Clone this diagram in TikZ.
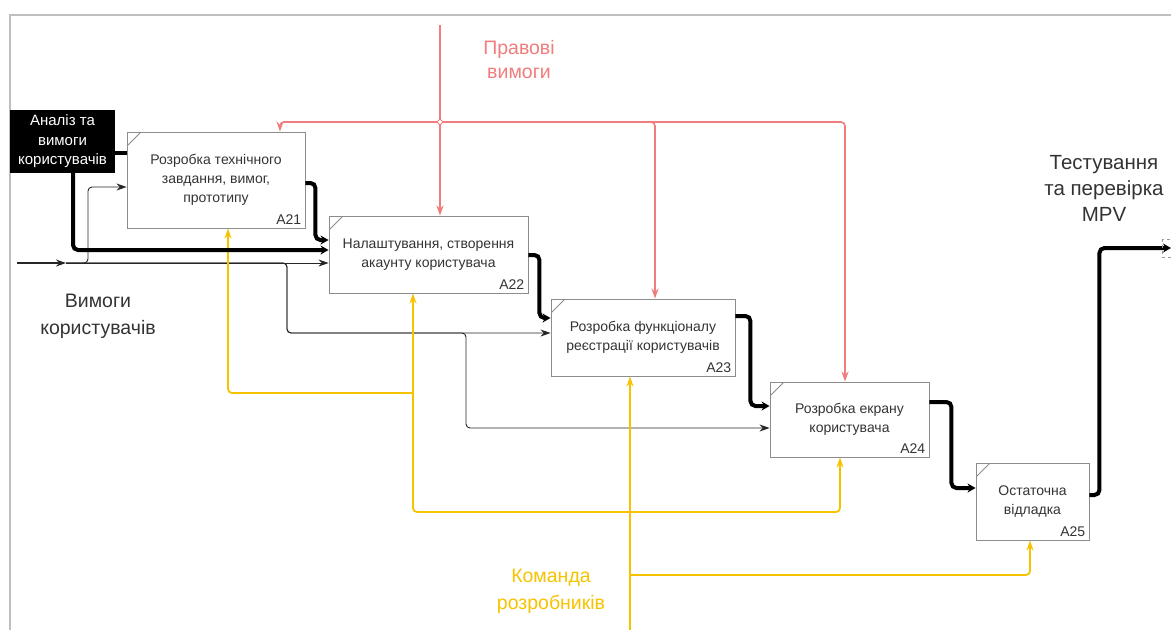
\documentclass[tikz,border=0pt]{standalone}
\usepackage{fontspec}
\setmainfont{Liberation Sans}
\usetikzlibrary{arrows.meta}
\definecolor{lawred}{HTML}{F07C7C}
\definecolor{teamgold}{HTML}{F5C300}

\begin{document}
\begin{tikzpicture}[x=1pt,y=-1pt,
  fn/.style={draw=black!45, line width=0.9pt, text=black!80, align=center,
    font=\fontsize{14}{19}\selectfont,
    path picture={\draw[black!45] ([yshift=-14pt]path picture bounding box.north west)
      -- ([xshift=14pt]path picture bounding box.north west);}},
  num/.style={anchor=south east, inner sep=4pt, text=black!80, font=\fontsize{14}{15}\selectfont},
  big/.style={align=center, text=black!80, font=\fontsize{19.5}{27}\selectfont},
  flow/.style={line width=4pt, rounded corners=5pt, -{Stealth[length=8pt,width=9pt]}},
  data/.style={draw=black!85, line width=0.9pt, rounded corners=4pt, -{Stealth[length=10pt,width=7pt]}},
  ctrl/.style={draw=lawred, line width=1.6pt, rounded corners=4pt, -{Stealth[length=10pt,width=7pt]}},
  mech/.style={draw=teamgold, line width=1.8pt, rounded corners=4pt, -{Stealth[length=10pt,width=7pt]}}]
  \useasboundingbox (0,0) rectangle (1171,630);
  \draw[black!25, line width=1.5pt] (10,630) -- (10,15) -- (1171,15);

  \node[fill=black, text=white, minimum width=105pt, minimum height=63pt, inner sep=1pt,
    align=center, font=\fontsize{15}{19.5}\selectfont] (ana) at (62.5,141.5)
    {Аналіз та\\вимоги\\користувачів};
  \node[fn, minimum width=178pt, minimum height=96pt] (a21) at (216,180)
    {Розробка технічного\\завдання, вимог,\\прототипу};
  \node[fn, minimum width=199pt, minimum height=77pt] (a22) at (428.5,254.5)
    {Налаштування, створення\\акаунту користувача};
  \node[fn, minimum width=184pt, minimum height=77pt] (a23) at (643,337.5)
    {Розробка функціоналу\\реєстрації користувачів};
  \node[fn, minimum width=159pt, minimum height=75pt] (a24) at (849.5,419.5)
    {Розробка екрану\\користувача};
  \node[fn, minimum width=113pt, minimum height=77pt] (a25) at (1032.5,501.5)
    {Остаточна\\відладка};
  \node[num] at (a21.south east) {A21};
  \node[num] at (a22.south east) {A22};
  \node[num] at (a23.south east) {A23};
  \node[num] at (a24.south east) {A24};
  \node[num] at (a25.south east) {A25};

  \node[big] (need) at (98,316) {Вимоги\\користувачів};
  \node[big, font=\fontsize{20.5}{26}\selectfont] (test) at (1104,188) {Тестування\\та перевірка\\MPV};
  \node[align=center, text=lawred, font=\fontsize{19.5}{24}\selectfont] (lawtxt) at (519,60)
    {Правові\\вимоги};
  \node[align=center, text=teamgold, font=\fontsize{19.5}{27}\selectfont] (teamtxt) at (551,591)
    {Команда\\розробників};

  \coordinate (in) at (17,263);
  \coordinate (fork) at (66,263);
  \coordinate (out) at (1171,248);
  \coordinate (law) at (440,25);
  \coordinate (lawj) at (440,122);
  \coordinate (team) at (630,630);
  \coordinate (teamj) at (630,512);
  \coordinate (teamk) at (630,575);
  \coordinate (teaml) at (413,393);

  % inputs
  \draw[data, line width=1.8pt] (in) -- (fork);
  \draw[data] (fork) -- (88,263) |- (a21.west |- 0,187);
  \draw[data] (fork) -- (a22.west |- fork);
  \draw[data] (fork) -| (287,333) -- (a23.west |- 0,333);
  \draw[data] (fork) -| (287,333) -| (466,428) -- (a24.west |- 0,428);

  % controls
  \draw[ctrl] (law) -- (law |- a22.north);
  \draw[ctrl] (lawj) -| (a21.north -| 280,0);
  \draw[ctrl] (lawj) -| (a23.north -| 655,0);
  \draw[ctrl] (lawj) -| (a24.north -| 845,0);
  \draw[lawred, fill=white, line width=1pt] (lawj) +(-3,0) -- +(0,-3) -- +(3,0) -- +(0,3) -- cycle;

  % mechanisms
  \draw[mech] (team) -- (team |- a23.south);
  \draw[mech] (teamj) -| (a22.south -| teaml);
  \draw[mech] (teaml) -| (a21.south -| 228,0);
  \draw[mech] (teamj) -| (a24.south -| 840,0);
  \draw[mech] (teamk) -| (a25.south -| 1030,0);

  % outputs
  \draw[flow, -] (ana.east |- 0,153) -- (a21.west |- 0,153);
  \draw[flow] (73,0 |- ana.south) |- (a22.west |- 0,250);
  \draw[flow] (a21.east |- 0,183) -- ++(10,0) |- (a22.west |- 0,240);
  \draw[flow] (a22.east |- 0,255) -- ++(11,0) |- (a23.west |- 0,318);
  \draw[flow] (a23.east |- 0,316) -- ++(15,0) |- (a24.west |- 0,406);
  \draw[flow] (a24.east |- 0,402) -- ++(22,0) |- (a25.west |- 0,488);
  \draw[flow] (a25.east |- 0,495) -- ++(10,0) |- (out);
  \draw[black!40, line width=0.6pt, dashed] (1162,239) rectangle (1175,257);
\end{tikzpicture}
\end{document}
